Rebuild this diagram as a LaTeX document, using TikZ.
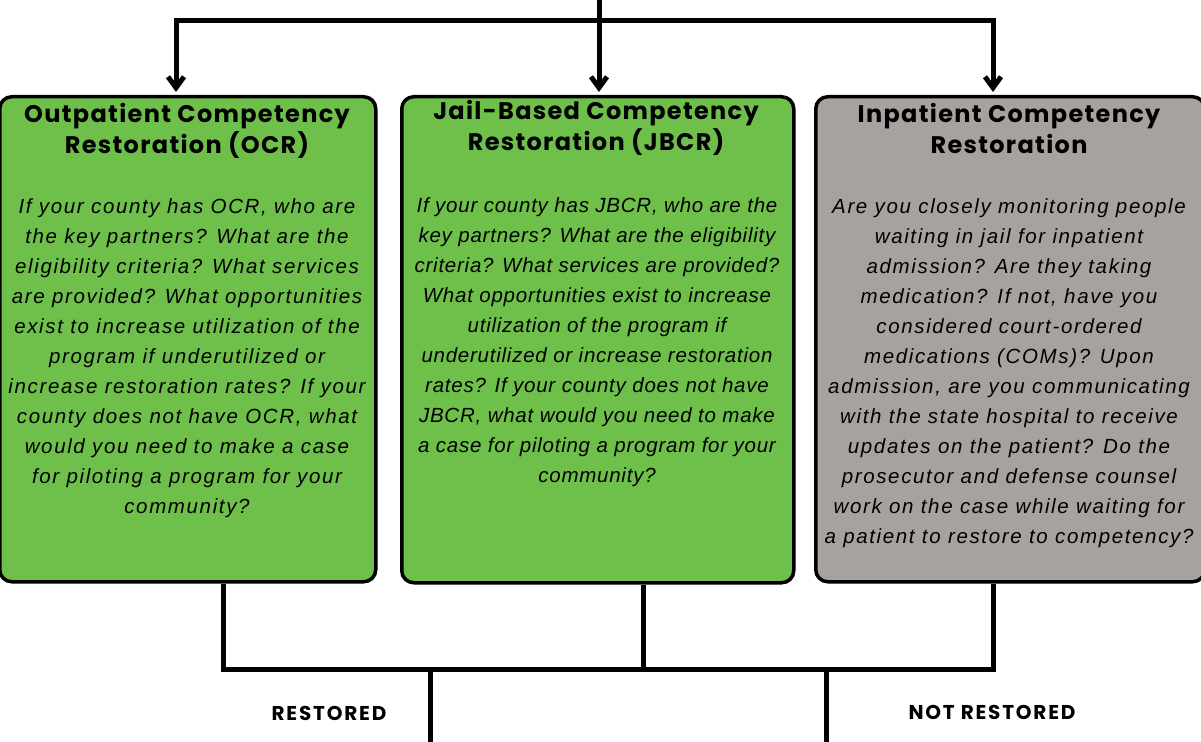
\documentclass[tikz,border=0pt]{standalone}
\usepackage{fontspec}
\setmainfont{Liberation Sans}
\newfontfamily\headfont{Poppins}[LetterSpace=5.5]
\newfontfamily\tagfont{Poppins}[LetterSpace=9]
\newfontfamily\askfont{Liberation Sans}[LetterSpace=8]
\newfontfamily\jailfont{Liberation Sans}[LetterSpace=3.7]
\usetikzlibrary{arrows.meta,positioning}

\definecolor{stagegreen}{RGB}{110,192,75}
\definecolor{stagegray}{RGB}{167,162,160}

\tikzset{
  stage/.style={draw,line width=3.5pt,rounded corners=12pt,anchor=north west,inner sep=0pt},
  heading/.style={anchor=north,inner sep=0pt,align=center,font=\headfont\bfseries\fontsize{24}{31}\selectfont},
  question/.style={anchor=north,inner sep=0pt,align=center,font=\askfont\itshape\fontsize{20.5}{30}\selectfont},
  outcome/.style={inner sep=0pt,font=\tagfont\bfseries\fontsize{20}{22}\selectfont},
  link/.style={line width=5pt},
  barb/.tip={Straight Barb[length=11pt,width=16pt,line width=5pt]},
  feed/.style={link,shorten >=3pt,-barb}
}

\begin{document}
\begin{tikzpicture}[x=1pt,y=-1pt]
  \useasboundingbox[fill=white] (0,0) rectangle (1201,741);

  %% Stages
  \node[stage,fill=stagegreen,minimum width=376pt,minimum height=485pt] (ocr) at (-2,95) {};
  \node[stage,fill=stagegreen,minimum width=392pt,minimum height=486pt] (jbcr) at (400,95) {};
  \node[stage,fill=stagegray,minimum width=389pt,minimum height=485pt] (ipcr) at (814,95) {};

  %% Headings
  \node[heading] (ocr title) at (187,103.5) {Outpatient Competency\\Restoration (OCR)};
  \node[heading] (jbcr title) at (596,100.5) {Jail-Based Competency\\Restoration (JBCR)};
  \node[heading] (ipcr title) at (1009,103.5) {Inpatient Competency\\Restoration};

  %% Questions
  \node[question] (ocr text) at (187,198.5) {If your county has OCR, who are\\
    the key partners? What are the\\
    eligibility criteria? What services\\
    are provided? What opportunities\\
    exist to increase utilization of the\\
    program if underutilized or\\
    increase restoration rates? If your\\
    county does not have OCR, what\\
    would you need to make a case\\
    for piloting a program for your\\
    community?};
  \node[question,font=\jailfont\itshape\fontsize{20.5}{30}\selectfont] (jbcr text) at (597,197.5) {If your county has JBCR, who are the\\
    key partners? What are the eligibility\\
    criteria? What services are provided?\\
    What opportunities exist to increase\\
    utilization of the program if\\
    underutilized or increase restoration\\
    rates? If your county does not have\\
    JBCR, what would you need to make\\
    a case for piloting a program for your\\
    community?};
  \node[question] (ipcr text) at (1009,198.5) {Are you closely monitoring people\\
    waiting in jail for inpatient\\
    admission? Are they taking\\
    medication? If not, have you\\
    considered court-ordered\\
    medications (COMs)? Upon\\
    admission, are you communicating\\
    with the state hospital to receive\\
    updates on the patient? Do the\\
    prosecutor and defense counsel\\
    work on the case while waiting for\\
    a patient to restore to competency?};

  %% Referral split
  \coordinate (source) at (599,-5);
  \coordinate (fork west) at (176,21);
  \coordinate (fork east) at (993,21);
  \draw[link,barb-barb,shorten <=3pt,shorten >=3pt]
    (ocr.north -| fork west) -- (fork west) -- (fork east) -- (ipcr.north -| fork east);
  \draw[feed] (source) -- (jbcr.north -| source);

  %% Outcomes
  \coordinate (merge west) at (223,669);
  \coordinate (merge east) at (993,669);
  \coordinate (merge mid) at (643,669);
  \draw[link] (ocr.south -| merge west) -- (merge west) -- (merge east) -- (ipcr.south -| merge east);
  \draw[link] (jbcr.south -| merge mid) -- (merge mid);
  \coordinate (restored) at (430,669);
  \coordinate (not restored) at (826,669);
  \draw[link] (restored) -- ++(0,80);
  \draw[link] (not restored) -- ++(0,80);
  \node[outcome] (restored label) at (329,713) {RESTORED};
  \node[outcome] (not restored label) at (992,712) {NOT RESTORED};
\end{tikzpicture}
\end{document}
